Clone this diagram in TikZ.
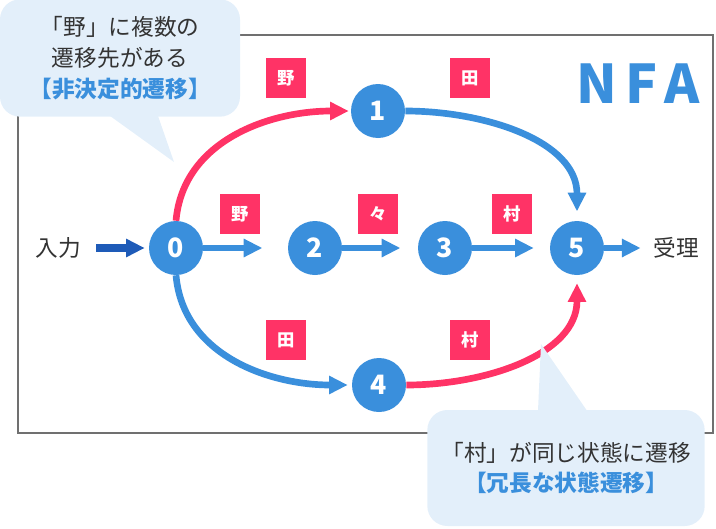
\documentclass[tikz,border=0pt]{standalone}
\usepackage{fontspec}
\setmainfont{Noto Sans CJK JP}
\usetikzlibrary{arrows.meta,positioning,calc}
\definecolor{stateblue}{HTML}{3A8FDC}
\definecolor{edgepink}{HTML}{FF3366}
\definecolor{inputblue}{HTML}{1E5BB8}
\definecolor{inktext}{HTML}{333333}
\definecolor{noteback}{HTML}{E3EFFA}
\definecolor{framegray}{HTML}{707070}

\begin{document}
\begin{tikzpicture}[
    x=0.75pt, y=0.75pt,
    font=\fontsize{17pt}{23pt}\selectfont\color{inktext},
    state/.style={
      circle, fill=stateblue, minimum size=40.5pt, inner sep=0pt,
      text=white, font=\fontsize{20pt}{20pt}\selectfont\bfseries
    },
    tag/.style={
      rectangle, fill=edgepink, minimum size=30pt, inner sep=0pt,
      text=white, font=\fontsize{13pt}{13pt}\selectfont\bfseries
    },
    note/.style={
      rectangle, rounded corners=15pt, fill=noteback,
      align=center, inner sep=0pt
    },
    bluearr/.style={-{Triangle[length=14pt,width=13pt]}, line width=5pt, draw=stateblue},
    pinkarr/.style={-{Triangle[length=14pt,width=13pt]}, line width=5pt, draw=edgepink},
    inarr/.style={-{Triangle[length=14pt,width=13pt]}, line width=6pt, draw=inputblue},
  ]
  \useasboundingbox (0,0) rectangle (716,-528);

  %% ── frame ────────────────────────────────────────────────
  \draw[framegray, line width=1.5pt] (18,-35) rectangle (713,-433);
  \node[anchor=base west, text=stateblue,
        font=\fontsize{40pt}{40pt}\selectfont\bfseries\addfontfeature{LetterSpace=16}]
    (title) at (572,-103) {NFA};

  %% ── states ───────────────────────────────────────────────
  \node[state] (s0) at (176,-248) {0};
  \node[state] (s1) at (378,-111) {1};
  \node[state] (s2) at (315,-248) {2};
  \node[state] (s3) at (445,-248) {3};
  \node[state] (s4) at (379,-385) {4};
  \node[state] (s5) at (577,-248) {5};

  \node (input)  at (58,-248)  {入力};
  \node (accept) at (676,-248) {受理};

  %% ── labels ───────────────────────────────────────────────
  \node[tag] (t01) at (286,-78)  {野};
  \node[tag] (t15) at (470,-78)  {田};
  \node[tag] (t02) at (240,-214) {野};
  \node[tag] (t23) at (378,-214) {々};
  \node[tag] (t35) at (512,-214) {村};
  \node[tag] (t04) at (286,-340) {田};
  \node[tag] (t45) at (470,-340) {村};

  %% ── transitions ──────────────────────────────────────────
  \draw[inarr, shorten <=8pt, shorten >=3pt] (input.east) -- (s0.west);
  \draw[pinkarr, shorten >=1.5pt] (s0.north) to[out=85, in=180] (s1.west);
  \draw[bluearr, shorten >=7pt] (s1.east) to[out=0, in=90] (s5.north);
  \draw[bluearr, shorten >=19pt] (s0.east) -- (s2.west);
  \draw[bluearr, shorten >=13pt] (s2.east) -- (s3.west);
  \draw[bluearr, shorten >=12pt] (s3.east) -- (s5.west);
  \draw[bluearr, shorten >=3pt] (s0.south) to[out=-85, in=180] (s4.west);
  \draw[pinkarr, shorten >=6pt] (s4.east) to[out=0, in=-90] (s5.south);
  \draw[bluearr, shorten >=6pt] (s5.east) -- (accept.west);

  %% ── callouts ─────────────────────────────────────────────
  \node[note, minimum width=180pt, minimum height=88pt] (note1) at (120,-58)
    {「野」に複数の\\遷移先がある\\{\color{stateblue}\bfseries 【非決定的遷移】}};
  \coordinate (tip1) at (174,-162);
  \fill[noteback] ($(note1.south)+(-10,1)$) -- (tip1) -- ($(note1.south)+(38,1)$) -- cycle;

  \node[note, minimum width=208pt, minimum height=87pt] (note2) at (566,-468)
    {「村」が同じ状態に遷移\\{\color{stateblue}\bfseries 【冗長な状態遷移】}};
  \coordinate (tip2) at (541,-344);
  \fill[noteback] ($(note2.north)+(-28,-1)$) -- (tip2) -- ($(note2.north)+(21,-1)$) -- cycle;

\end{tikzpicture}
\end{document}
